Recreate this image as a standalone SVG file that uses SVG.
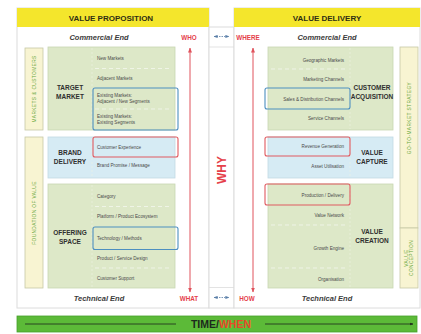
<svg xmlns="http://www.w3.org/2000/svg" width="421" height="334" viewBox="0 0 421 334">
  <defs>
    <marker id="redHead" viewBox="0 0 10 10" refX="9" refY="5" markerWidth="5" markerHeight="5" orient="auto-start-reverse">
      <path d="M0,1 L10,5 L0,9 z" fill="#e0525c"/>
    </marker>
    <marker id="blueHead" viewBox="0 0 10 10" refX="9" refY="5" markerWidth="5" markerHeight="5" orient="auto-start-reverse">
      <path d="M0,1 L10,5 L0,9 z" fill="#5a7fa8"/>
    </marker>
    <marker id="blackHead" viewBox="0 0 10 10" refX="9" refY="5" markerWidth="4" markerHeight="4" orient="auto">
      <path d="M0,1 L10,5 L0,9 z" fill="#1d2a1d"/>
    </marker>
  </defs>
  <style>
    text { font-family: "Liberation Sans", Arial, sans-serif; }
    .panel { fill: #ffffff; stroke: #dcdcdc; stroke-width: 1; }
    .header { fill: #f4e62c; }
    .htxt { font-size: 8px; font-weight: bold; fill: #2e2e14; text-anchor: middle; }
    .end { font-size: 7.5px; font-weight: bold; font-style: italic; fill: #3c3c3c; text-anchor: middle; }
    .q { font-size: 6.3px; font-weight: bold; fill: #e5404a; text-anchor: middle; }
    .green { fill: #dde8c8; stroke: #c9d6b2; stroke-width: 0.8; }
    .blue { fill: #d6ebf4; stroke: #c2d9e4; stroke-width: 0.8; }
    .lab { fill: #f8f4d2; stroke: #c6c9a6; stroke-width: 0.8; }
    .labtxt { font-size: 4.8px; fill: #6aa83c; text-anchor: middle; letter-spacing: 0.4px; }
    .name { font-size: 6.5px; font-weight: bold; fill: #2f2f2f; text-anchor: middle; }
    .item { font-size: 4.6px; fill: #4a4a4a; }
    .itemR { font-size: 4.6px; fill: #4a4a4a; text-anchor: end; }
    .sep { stroke: #f4f6ee; stroke-width: 0.8; stroke-dasharray: 4 3; fill: none; }
    .div { stroke: #eef2e4; stroke-width: 0.6; stroke-dasharray: 2 2; fill: none; }
    .hlBlue { fill: none; stroke: #4d8fc0; stroke-width: 1.1; }
    .hlRed { fill: none; stroke: #e05a60; stroke-width: 1.1; }
    .redArrow { stroke: #e0525c; stroke-width: 1; fill: none; marker-start: url(#redHead); marker-end: url(#redHead); }
    .blueArrow { stroke: #5a7fa8; stroke-width: 0.8; stroke-dasharray: 1.5 1; fill: none; marker-start: url(#blueHead); marker-end: url(#blueHead); }
  </style>

  <!-- left panel: value proposition -->
  <g id="value-proposition">
    <rect class="panel" x="17" y="8" width="192" height="300"/>
    <rect class="header" x="17" y="8" width="192" height="19"/>
    <text class="htxt" x="111" y="20.5">VALUE PROPOSITION</text>
    <text class="end" x="99" y="40">Commercial End</text>
    <text class="q" x="189" y="39.5">WHO</text>
    <text class="end" x="99" y="300.5">Technical End</text>
    <text class="q" x="189" y="300.5">WHAT</text>
  </g>

  <g id="markets-customers">
    <rect class="lab" x="25" y="48" width="18" height="82"/>
    <text class="labtxt" transform="translate(35.5,89) rotate(-90)">MARKETS &amp; CUSTOMERS</text>
  </g>
  <g id="foundation-of-value">
    <rect class="lab" x="25" y="137" width="18" height="151"/>
    <text class="labtxt" transform="translate(35.5,213) rotate(-90)">FOUNDATION OF VALUE</text>
  </g>

  <g id="target-market">
    <rect class="green" x="48" y="47" width="127" height="83"/>
    <line class="div" x1="92" y1="48" x2="92" y2="129"/>
    <line class="sep" x1="95" y1="68.5" x2="172" y2="68.5"/>
    <line class="sep" x1="95" y1="109" x2="172" y2="109"/>
    <text class="name" x="70" y="90">TARGET</text>
    <text class="name" x="70" y="99">MARKET</text>
    <text class="item" x="97" y="60">New Markets</text>
    <text class="item" x="97" y="80">Adjacent Markets</text>
    <text class="item" x="97" y="96.5">Existing Markets:</text>
    <text class="item" x="97" y="102.5">Adjacent / New Segments</text>
    <text class="item" x="97" y="117.5">Existing Markets:</text>
    <text class="item" x="97" y="123.5">Existing Segments</text>
    <rect class="hlBlue" x="93" y="88" width="85" height="42" rx="2"/>
  </g>

  <g id="brand-delivery">
    <rect class="blue" x="48" y="137" width="127" height="41"/>
    <line class="div" x1="92" y1="138" x2="92" y2="177"/>
    <text class="name" x="70" y="155">BRAND</text>
    <text class="name" x="70" y="163.5">DELIVERY</text>
    <text class="item" x="97" y="148.5">Customer Experience</text>
    <text class="item" x="97" y="167">Brand Promise / Message</text>
    <rect class="hlRed" x="93" y="137" width="85" height="20" rx="2"/>
  </g>

  <g id="offering-space">
    <rect class="green" x="48" y="184" width="127" height="104"/>
    <line class="div" x1="92" y1="185" x2="92" y2="287"/>
    <line class="sep" x1="95" y1="206.5" x2="172" y2="206.5"/>
    <line class="sep" x1="95" y1="268" x2="172" y2="268"/>
    <text class="name" x="70" y="235">OFFERING</text>
    <text class="name" x="70" y="243.5">SPACE</text>
    <text class="item" x="97" y="198">Category</text>
    <text class="item" x="97" y="218">Platform / Product Ecosystem</text>
    <text class="item" x="97" y="239.5">Technology / Methods</text>
    <text class="item" x="97" y="260">Product / Service Design</text>
    <text class="item" x="97" y="280">Customer Support</text>
    <rect class="hlBlue" x="93" y="227" width="85" height="22.5" rx="2"/>
  </g>

  <!-- middle column: why -->
  <g id="why">
    <rect class="panel" x="209" y="27" width="25" height="281"/>
    <line x1="209" y1="47" x2="234" y2="47" stroke="#dcdcdc" stroke-width="0.8"/>
    <line x1="209" y1="287.5" x2="234" y2="287.5" stroke="#dcdcdc" stroke-width="0.8"/>
    <text transform="translate(225.5,170) rotate(-90)" font-size="12" font-weight="bold" fill="#e5404a" text-anchor="middle">WHY</text>
  </g>

  <!-- right panel: value delivery -->
  <g id="value-delivery">
    <rect class="panel" x="234" y="8" width="186" height="300"/>
    <rect class="header" x="234" y="8" width="186" height="19"/>
    <text class="htxt" x="327" y="20.5">VALUE DELIVERY</text>
    <text class="end" x="327" y="40">Commercial End</text>
    <text class="q" x="248" y="39.5">WHERE</text>
    <text class="end" x="327" y="300.5">Technical End</text>
    <text class="q" x="247" y="300.5">HOW</text>
  </g>

  <g id="customer-acquisition">
    <rect class="green" x="268" y="47" width="125" height="83"/>
    <line class="div" x1="350" y1="48" x2="350" y2="129"/>
    <line class="sep" x1="271" y1="69" x2="347" y2="69"/>
    <text class="name" x="372" y="90">CUSTOMER</text>
    <text class="name" x="372" y="98.5">ACQUISITION</text>
    <text class="itemR" x="344" y="61.5">Geographic Markets</text>
    <text class="itemR" x="344" y="81">Marketing Channels</text>
    <text class="itemR" x="344" y="100.5">Sales &amp; Distribution Channels</text>
    <text class="itemR" x="344" y="119.5">Service Channels</text>
    <rect class="hlBlue" x="265" y="88" width="85" height="21" rx="2"/>
  </g>

  <g id="value-capture">
    <rect class="blue" x="268" y="137" width="125" height="41"/>
    <line class="div" x1="350" y1="138" x2="350" y2="177"/>
    <text class="name" x="372" y="155">VALUE</text>
    <text class="name" x="372" y="163.5">CAPTURE</text>
    <text class="itemR" x="344" y="148">Revenue Generation</text>
    <text class="itemR" x="344" y="167.5">Asset Utilisation</text>
    <rect class="hlRed" x="265" y="137" width="85" height="19" rx="2"/>
  </g>

  <g id="value-creation">
    <rect class="green" x="268" y="184" width="125" height="104"/>
    <line class="div" x1="350" y1="185" x2="350" y2="287"/>
    <line class="sep" x1="271" y1="225" x2="347" y2="225"/>
    <line class="sep" x1="271" y1="268" x2="347" y2="268"/>
    <text class="name" x="372" y="234">VALUE</text>
    <text class="name" x="372" y="242.5">CREATION</text>
    <text class="itemR" x="344" y="196.5">Production / Delivery</text>
    <text class="itemR" x="344" y="216.5">Value Network</text>
    <text class="itemR" x="344" y="249.5">Growth Engine</text>
    <text class="itemR" x="344" y="280.5">Organisation</text>
    <rect class="hlRed" x="265" y="184" width="85" height="21" rx="2"/>
  </g>

  <g id="go-to-market-strategy">
    <rect class="lab" x="400" y="47" width="18" height="181"/>
    <text class="labtxt" transform="translate(410.5,118) rotate(-90)">GO-TO-MARKET STRATEGY</text>
  </g>
  <g id="value-conception">
    <rect class="lab" x="400" y="228" width="18" height="60"/>
    <text class="labtxt" transform="translate(407.5,258) rotate(-90)">VALUE</text>
    <text class="labtxt" transform="translate(413,258) rotate(-90)">CONCEPTION</text>
  </g>

  <!-- time bar -->
  <g id="time-when">
    <rect x="17" y="316" width="400" height="16" fill="#5cba38" stroke="#46a02c" stroke-width="0.8"/>
    <text x="221" y="327.8" font-size="10.5" font-weight="bold" text-anchor="middle" fill="#1d2a1d">TIME/<tspan fill="#e8492a">WHEN</tspan></text>
  </g>

  <!-- connectors -->
  <g id="connectors">
    <line class="redArrow" x1="190" y1="48" x2="190" y2="292"/>
    <line class="redArrow" x1="253" y1="48" x2="253" y2="292"/>
    <line class="blueArrow" x1="214" y1="36.5" x2="229" y2="36.5"/>
    <line class="blueArrow" x1="214" y1="297.5" x2="229" y2="297.5"/>
    <line x1="25" y1="324" x2="176" y2="324" stroke="#1d2a1d" stroke-width="0.8"/>
    <line x1="265" y1="324" x2="413" y2="324" stroke="#1d2a1d" stroke-width="0.8" marker-end="url(#blackHead)"/>
  </g>
</svg>
